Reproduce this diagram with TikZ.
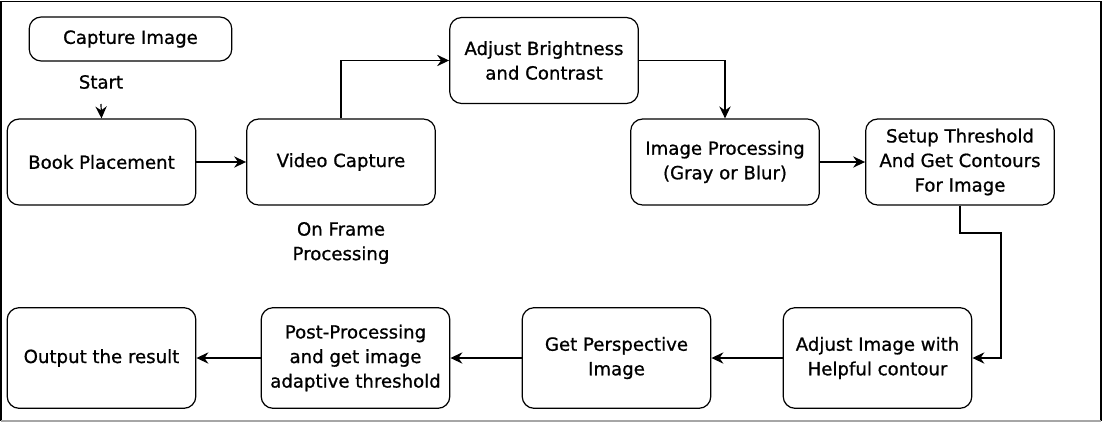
\documentclass[tikz,border=0pt]{standalone}
\usepackage{fontspec}
\setmainfont{DejaVu Sans}[FakeBold=0.9]
\usetikzlibrary{arrows.meta}
\begin{document}
\begin{tikzpicture}[x=0.75pt,y=-0.75pt,
  txt/.style={font=\fontsize{13.6}{18.4}\selectfont, align=center, inner sep=0pt},
  box/.style={txt, draw, line width=0.9pt, rounded corners=9pt, minimum width=141.5pt, minimum height=64.5pt},
  tallbox/.style={box, minimum height=75.5pt},
  arr/.style={draw, line width=0.9pt, -{Stealth[length=9pt,width=8.5pt,inset=3pt]}}]
\useasboundingbox (0,0) rectangle (1102,422);
\draw[line width=1pt] (1,421) -- (1,1.2) -- (1101,1.2) -- (1101,421);
\draw[line width=1pt, gray!70] (1,421) -- (1101,421);

\node[box, minimum width=152pt, minimum height=33pt] (cap) at (130.5,39) {Capture Image};
\node[txt] (start) at (101,82) {Start};
\coordinate (s0) at (101,104);
\node[box] (book) at (101.5,162) {Book Placement};
\node[box] (video) at (341,162) {Video Capture};
\node[box] (bright) at (544,60.5) {Adjust Brightness\\and Contrast};
\node[box] (improc) at (725,162) {Image Processing\\(Gray or Blur)};
\node[box] (setup) at (960,162) {Setup Threshold\\And Get Contours\\For Image};
\node[tallbox] (adjimg) at (877.5,358) {Adjust Image with\\Helpful contour};
\node[tallbox] (persp) at (616.5,358) {Get Perspective\\Image};
\node[tallbox] (post) at (355.5,358) {Post-Processing\\and get image\\adaptive threshold};
\node[tallbox] (out) at (101.5,358) {Output the result};
\node[txt] (onf) at (341,243) {On Frame\\Processing};
\coordinate (c1) at (1001,233);

\draw[arr] (s0) -- (book.north);
\draw[arr] (book) -- (video);
\draw[arr] (video.north) |- (bright.west);
\draw[arr] (bright.east) -| (improc.north);
\draw[arr] (improc) -- (setup);
\draw[arr] (setup.south) |- (c1) |- (adjimg.east);
\draw[arr] (adjimg) -- (persp);
\draw[arr] (persp) -- (post);
\draw[arr] (post) -- (out);
\end{tikzpicture}
\end{document}
